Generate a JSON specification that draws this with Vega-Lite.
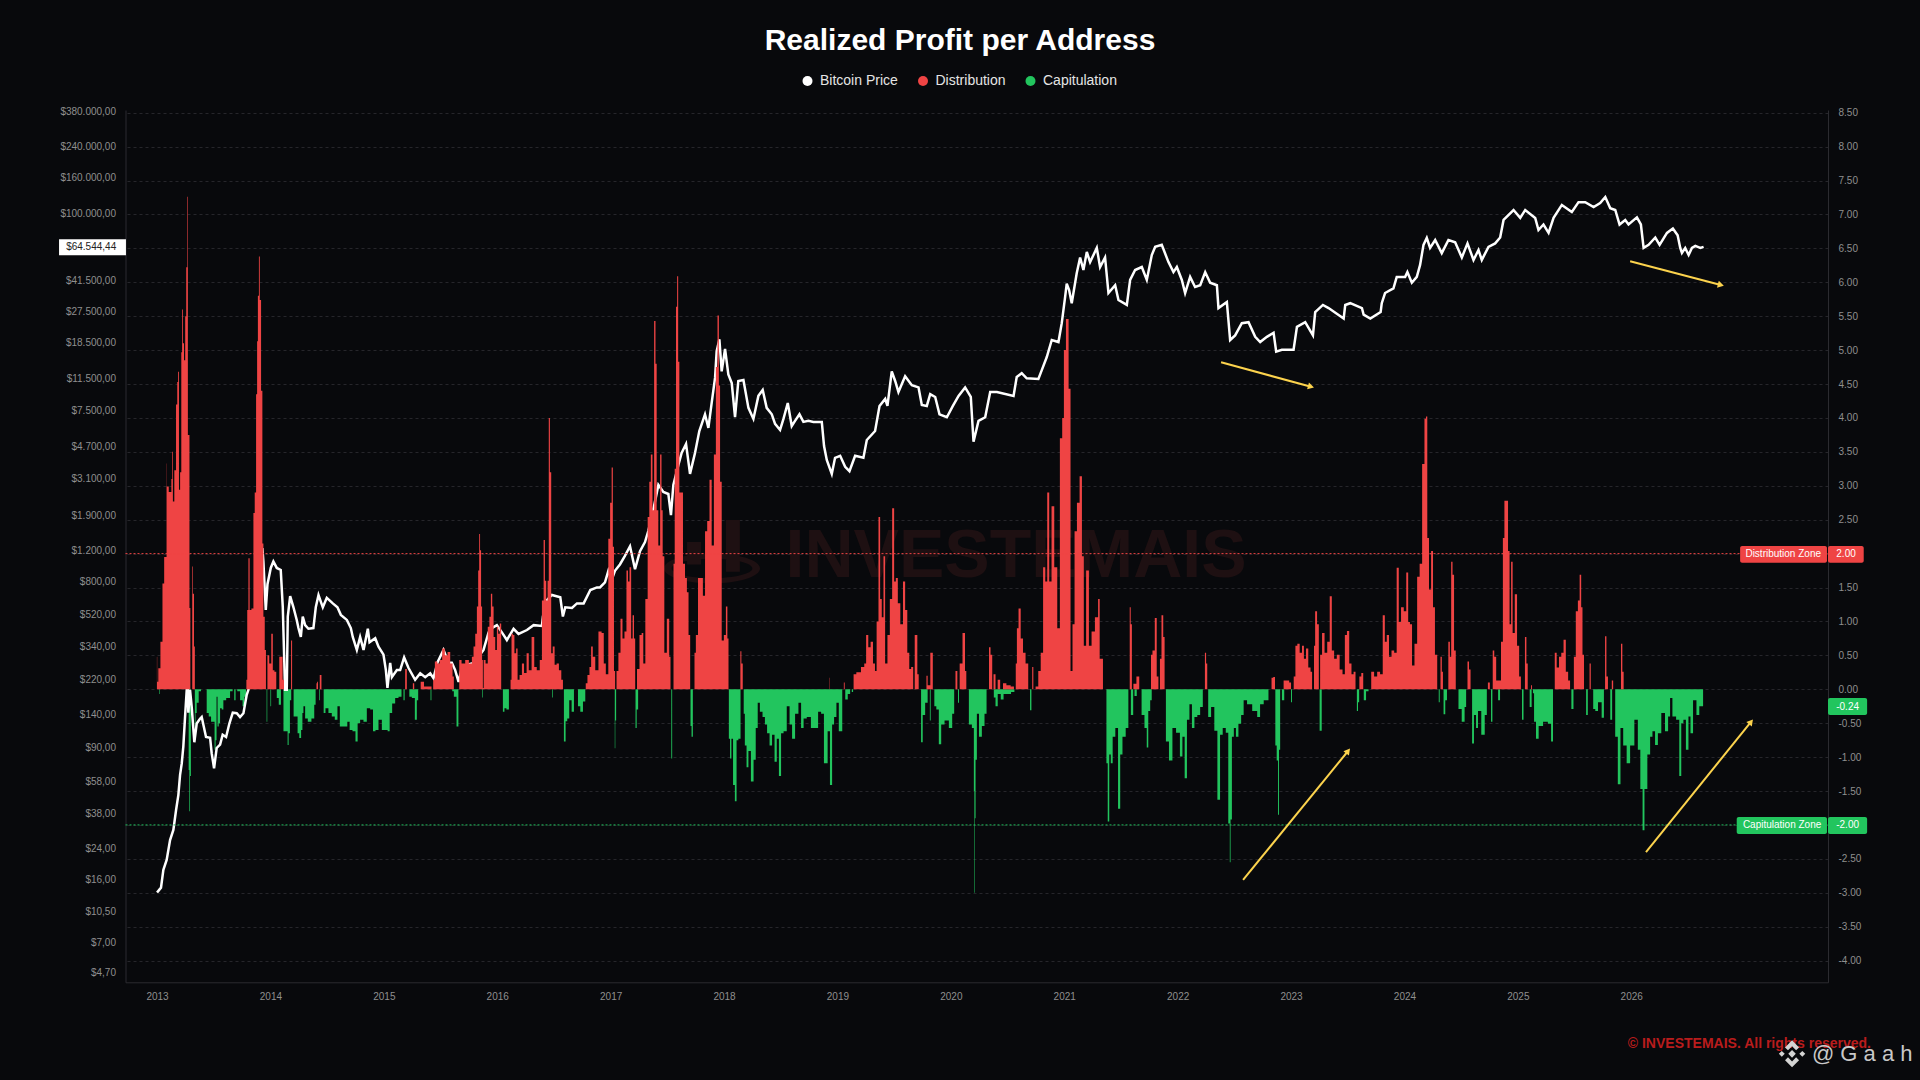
{"$schema":"https://vega.github.io/schema/vega-lite/v6.json","width":1702.5,"height":872.3,"autosize":{"type":"none"},"padding":{"left":125.5,"top":110,"right":92,"bottom":97.7},"background":"#08090c","config":{"font":"Liberation Sans","view":{"stroke":null}},"title":{"text":"Realized Profit per Address","fontSize":30,"fontWeight":"bold","color":"#ffffff","anchor":"middle","dx":-16.75,"offset":18,"font":"Liberation Sans"},
"datasets":{
"dist":[{"t":2012.998,"v":0},{"t":2013.0,"v":0.48},{"t":2013.003,"v":0.11},{"t":2013.02,"v":0.31},{"t":2013.04,"v":0.7},{"t":2013.056,"v":1.56},{"t":2013.07,"v":1.95},{"t":2013.083,"v":1.95},{"t":2013.085,"v":3.33},{"t":2013.087,"v":2.99},{"t":2013.12,"v":2.91},{"t":2013.133,"v":3.1},{"t":2013.135,"v":3.5},{"t":2013.145,"v":2.77},{"t":2013.16,"v":3.23},{"t":2013.175,"v":4.2},{"t":2013.182,"v":4.53},{"t":2013.19,"v":4.68},{"t":2013.197,"v":2.94},{"t":2013.21,"v":3.2},{"t":2013.218,"v":4.97},{"t":2013.224,"v":5.6},{"t":2013.232,"v":5.1},{"t":2013.244,"v":4.85},{"t":2013.253,"v":5.5},{"t":2013.262,"v":6.22},{"t":2013.266,"v":6.22},{"t":2013.268,"v":7.26},{"t":2013.27,"v":7.26},{"t":2013.274,"v":3.75},{"t":2013.282,"v":3.75},{"t":2013.29,"v":1.2},{"t":2013.298,"v":0},{"t":2013.309,"v":0},{"t":2013.312,"v":1.81},{"t":2013.32,"v":1.41},{"t":2013.332,"v":0.63},{"t":2013.335,"v":0},{"t":2013.785,"v":0},{"t":2013.791,"v":0.14},{"t":2013.8,"v":1.17},{"t":2013.812,"v":1.93},{"t":2013.821,"v":1.17},{"t":2013.844,"v":1.19},{"t":2013.856,"v":2.6},{"t":2013.867,"v":2.9},{"t":2013.88,"v":4.35},{"t":2013.885,"v":5.13},{"t":2013.894,"v":5.8},{"t":2013.903,"v":6.38},{"t":2013.909,"v":5.74},{"t":2013.915,"v":5.74},{"t":2013.92,"v":4.4},{"t":2013.926,"v":4.4},{"t":2013.932,"v":2.15},{"t":2013.944,"v":1.07},{"t":2013.956,"v":0.58},{"t":2013.965,"v":0},{"t":2013.982,"v":0.5},{"t":2013.997,"v":0.38},{"t":2014.018,"v":0.82},{"t":2014.024,"v":0.28},{"t":2014.047,"v":0.26},{"t":2014.056,"v":0},{"t":2014.1,"v":0.48},{"t":2014.115,"v":0.14},{"t":2014.124,"v":0},{"t":2014.179,"v":0},{"t":2014.185,"v":0.72},{"t":2014.197,"v":0},{"t":2014.403,"v":0},{"t":2014.409,"v":0.09},{"t":2014.415,"v":0.11},{"t":2014.424,"v":0},{"t":2014.432,"v":0},{"t":2014.438,"v":0.21},{"t":2014.462,"v":0},{"t":2015.185,"v":0},{"t":2015.191,"v":0.3},{"t":2015.215,"v":0},{"t":2015.25,"v":0},{"t":2015.262,"v":0.09},{"t":2015.274,"v":0},{"t":2015.306,"v":0},{"t":2015.344,"v":0.11},{"t":2015.365,"v":0.04},{"t":2015.409,"v":0.04},{"t":2015.432,"v":0},{"t":2015.438,"v":0.14},{"t":2015.462,"v":0.41},{"t":2015.482,"v":0.38},{"t":2015.503,"v":0.43},{"t":2015.526,"v":0.6},{"t":2015.55,"v":0.5},{"t":2015.574,"v":0.55},{"t":2015.597,"v":0.38},{"t":2015.615,"v":0.19},{"t":2015.62,"v":0},{"t":2015.662,"v":0},{"t":2015.668,"v":0.43},{"t":2015.703,"v":0.38},{"t":2015.732,"v":0.43},{"t":2015.768,"v":0.38},{"t":2015.785,"v":0.48},{"t":2015.797,"v":0.63},{"t":2015.815,"v":0.82},{"t":2015.826,"v":1.22},{"t":2015.838,"v":1.75},{"t":2015.844,"v":2.29},{"t":2015.853,"v":2.05},{"t":2015.862,"v":1.22},{"t":2015.871,"v":0.43},{"t":2015.876,"v":0.02},{"t":2015.885,"v":0.43},{"t":2015.909,"v":0.38},{"t":2015.924,"v":0.92},{"t":2015.938,"v":1.07},{"t":2015.95,"v":1.41},{"t":2015.962,"v":1.22},{"t":2015.974,"v":0.77},{"t":2015.991,"v":0.58},{"t":2016.003,"v":0.92},{"t":2016.015,"v":0.82},{"t":2016.029,"v":0.97},{"t":2016.041,"v":0},{"t":2016.115,"v":0},{"t":2016.12,"v":0.14},{"t":2016.132,"v":0.82},{"t":2016.144,"v":0.8},{"t":2016.159,"v":0.53},{"t":2016.174,"v":0.6},{"t":2016.185,"v":0.14},{"t":2016.209,"v":0.21},{"t":2016.226,"v":0.38},{"t":2016.247,"v":0.24},{"t":2016.271,"v":0.53},{"t":2016.285,"v":0.28},{"t":2016.321,"v":0.77},{"t":2016.332,"v":0.33},{"t":2016.365,"v":0.28},{"t":2016.385,"v":0.43},{"t":2016.403,"v":1.31},{"t":2016.415,"v":2.2},{"t":2016.426,"v":1.6},{"t":2016.438,"v":1.31},{"t":2016.45,"v":1.6},{"t":2016.459,"v":4.0},{"t":2016.47,"v":3.2},{"t":2016.482,"v":0.53},{"t":2016.497,"v":0.63},{"t":2016.515,"v":0.36},{"t":2016.532,"v":0.38},{"t":2016.556,"v":0.28},{"t":2016.574,"v":0.14},{"t":2016.585,"v":0},{"t":2016.776,"v":0},{"t":2016.785,"v":0.09},{"t":2016.806,"v":0.21},{"t":2016.821,"v":0.33},{"t":2016.835,"v":0.63},{"t":2016.85,"v":0.48},{"t":2016.879,"v":0.28},{"t":2016.906,"v":0.85},{"t":2016.935,"v":0.83},{"t":2016.944,"v":0.38},{"t":2016.971,"v":0.22},{"t":2016.988,"v":2.22},{"t":2017.003,"v":2.75},{"t":2017.015,"v":3.27},{"t":2017.024,"v":2.1},{"t":2017.035,"v":0.27},{"t":2017.044,"v":0},{"t":2017.06,"v":0.27},{"t":2017.077,"v":0.54},{"t":2017.097,"v":1.04},{"t":2017.112,"v":0.75},{"t":2017.132,"v":0.85},{"t":2017.147,"v":1.75},{"t":2017.159,"v":1.59},{"t":2017.174,"v":1.8},{"t":2017.188,"v":0.75},{"t":2017.2,"v":1.09},{"t":2017.212,"v":0.75},{"t":2017.221,"v":0},{"t":2017.244,"v":0.3},{"t":2017.265,"v":0.8},{"t":2017.282,"v":0.83},{"t":2017.294,"v":0.38},{"t":2017.318,"v":1.33},{"t":2017.335,"v":2.54},{"t":2017.347,"v":3.06},{"t":2017.362,"v":3.46},{"t":2017.376,"v":2.64},{"t":2017.391,"v":5.43},{"t":2017.4,"v":4.8},{"t":2017.412,"v":2.64},{"t":2017.429,"v":2.12},{"t":2017.444,"v":3.46},{"t":2017.453,"v":2.64},{"t":2017.465,"v":1.96},{"t":2017.482,"v":0.54},{"t":2017.509,"v":1.04},{"t":2017.524,"v":0.48},{"t":2017.532,"v":0},{"t":2017.55,"v":0},{"t":2017.559,"v":1.85},{"t":2017.571,"v":3.25},{"t":2017.582,"v":5.64},{"t":2017.591,"v":6.09},{"t":2017.6,"v":4.83},{"t":2017.612,"v":2.9},{"t":2017.629,"v":2.9},{"t":2017.647,"v":1.85},{"t":2017.665,"v":1.64},{"t":2017.68,"v":1.43},{"t":2017.694,"v":0.8},{"t":2017.709,"v":0},{"t":2017.735,"v":0},{"t":2017.744,"v":0.54},{"t":2017.759,"v":0.8},{"t":2017.782,"v":1.64},{"t":2017.803,"v":1.64},{"t":2017.824,"v":1.38},{"t":2017.841,"v":2.33},{"t":2017.862,"v":2.48},{"t":2017.882,"v":3.09},{"t":2017.9,"v":2.12},{"t":2017.921,"v":3.46},{"t":2017.935,"v":4.75},{"t":2017.95,"v":5.51},{"t":2017.959,"v":4.48},{"t":2017.971,"v":3.06},{"t":2017.988,"v":0.72},{"t":2018.009,"v":0.8},{"t":2018.024,"v":1.22},{"t":2018.035,"v":0.75},{"t":2018.044,"v":0},{"t":2018.141,"v":0},{"t":2018.147,"v":0.56},{"t":2018.159,"v":0.38},{"t":2018.171,"v":0},{"t":2018.927,"v":0},{"t":2018.93,"v":0.17},{"t":2018.933,"v":0},{"t":2019.053,"v":0},{"t":2019.06,"v":0.1},{"t":2019.068,"v":0},{"t":2019.138,"v":0},{"t":2019.147,"v":0.22},{"t":2019.186,"v":0.25},{"t":2019.229,"v":0.33},{"t":2019.244,"v":0.38},{"t":2019.262,"v":0.8},{"t":2019.282,"v":0.62},{"t":2019.303,"v":0.7},{"t":2019.324,"v":0.38},{"t":2019.338,"v":0.27},{"t":2019.353,"v":1.0},{"t":2019.371,"v":2.54},{"t":2019.382,"v":1.33},{"t":2019.4,"v":1.06},{"t":2019.412,"v":1.96},{"t":2019.429,"v":0.38},{"t":2019.453,"v":0.8},{"t":2019.471,"v":1.33},{"t":2019.494,"v":2.67},{"t":2019.506,"v":1.59},{"t":2019.524,"v":1.64},{"t":2019.541,"v":1.27},{"t":2019.568,"v":0.96},{"t":2019.588,"v":1.59},{"t":2019.606,"v":1.17},{"t":2019.626,"v":0.54},{"t":2019.641,"v":0.3},{"t":2019.659,"v":0.33},{"t":2019.677,"v":0},{"t":2019.686,"v":0.8},{"t":2019.7,"v":0.8},{"t":2019.709,"v":0.22},{"t":2019.724,"v":0},{"t":2019.782,"v":0},{"t":2019.788,"v":0.2},{"t":2019.803,"v":0.06},{"t":2019.835,"v":0.54},{"t":2019.847,"v":0},{"t":2020.035,"v":0},{"t":2020.047,"v":0.27},{"t":2020.068,"v":0},{"t":2020.088,"v":0.38},{"t":2020.118,"v":0.83},{"t":2020.132,"v":0.27},{"t":2020.141,"v":0},{"t":2020.332,"v":0},{"t":2020.341,"v":0.62},{"t":2020.359,"v":0.51},{"t":2020.371,"v":0},{"t":2020.382,"v":0.22},{"t":2020.406,"v":0},{"t":2020.42,"v":0.14},{"t":2020.45,"v":0},{"t":2020.47,"v":0.09},{"t":2020.51,"v":0.06},{"t":2020.545,"v":0.04},{"t":2020.568,"v":0},{"t":2020.577,"v":0.38},{"t":2020.588,"v":0.9},{"t":2020.606,"v":1.19},{"t":2020.626,"v":0.75},{"t":2020.647,"v":0.54},{"t":2020.671,"v":0.38},{"t":2020.694,"v":0},{"t":2020.715,"v":0},{"t":2020.72,"v":0.33},{"t":2020.735,"v":0},{"t":2020.76,"v":0.04},{"t":2020.782,"v":0.27},{"t":2020.803,"v":0.54},{"t":2020.824,"v":1.8},{"t":2020.841,"v":1.59},{"t":2020.859,"v":2.9},{"t":2020.876,"v":1.59},{"t":2020.9,"v":2.7},{"t":2020.924,"v":1.8},{"t":2020.953,"v":0.9},{"t":2020.97,"v":3.7},{"t":2020.994,"v":4.0},{"t":2021.0,"v":5.0},{"t":2021.03,"v":5.46},{"t":2021.047,"v":4.43},{"t":2021.064,"v":0.27},{"t":2021.082,"v":0.96},{"t":2021.1,"v":2.33},{"t":2021.124,"v":2.75},{"t":2021.147,"v":3.14},{"t":2021.165,"v":1.96},{"t":2021.18,"v":0.64},{"t":2021.206,"v":1.75},{"t":2021.229,"v":0.64},{"t":2021.253,"v":0.85},{"t":2021.288,"v":1.06},{"t":2021.309,"v":1.33},{"t":2021.316,"v":0.45},{"t":2021.367,"v":0},{"t":2021.576,"v":0},{"t":2021.579,"v":1.21},{"t":2021.593,"v":0.96},{"t":2021.6,"v":0},{"t":2021.62,"v":0.08},{"t":2021.653,"v":0.19},{"t":2021.67,"v":0},{"t":2021.762,"v":0},{"t":2021.768,"v":0.51},{"t":2021.788,"v":0.57},{"t":2021.809,"v":1.05},{"t":2021.822,"v":0.19},{"t":2021.839,"v":0},{"t":2021.849,"v":0.45},{"t":2021.866,"v":1.09},{"t":2021.88,"v":0.77},{"t":2021.89,"v":0},{"t":2022.237,"v":0},{"t":2022.244,"v":0.54},{"t":2022.258,"v":0.38},{"t":2022.264,"v":0},{"t":2022.825,"v":0},{"t":2022.831,"v":0.17},{"t":2022.855,"v":0.18},{"t":2022.862,"v":0},{"t":2022.919,"v":0},{"t":2022.95,"v":0.13},{"t":2022.97,"v":0.13},{"t":2022.997,"v":0.1},{"t":2023.003,"v":0},{"t":2023.017,"v":0},{"t":2023.03,"v":0.19},{"t":2023.047,"v":0.64},{"t":2023.064,"v":0.67},{"t":2023.088,"v":0.54},{"t":2023.105,"v":0.64},{"t":2023.122,"v":0.45},{"t":2023.142,"v":0.6},{"t":2023.162,"v":0.32},{"t":2023.182,"v":0.26},{"t":2023.189,"v":0},{"t":2023.199,"v":0},{"t":2023.206,"v":0.64},{"t":2023.219,"v":1.15},{"t":2023.24,"v":0.96},{"t":2023.25,"v":0},{"t":2023.263,"v":0.51},{"t":2023.284,"v":0.83},{"t":2023.307,"v":0.54},{"t":2023.331,"v":0.7},{"t":2023.351,"v":1.37},{"t":2023.368,"v":0.57},{"t":2023.392,"v":0.45},{"t":2023.415,"v":0.51},{"t":2023.442,"v":0.29},{"t":2023.466,"v":0.22},{"t":2023.483,"v":0.8},{"t":2023.503,"v":0.86},{"t":2023.523,"v":0.38},{"t":2023.543,"v":0.22},{"t":2023.56,"v":0.26},{"t":2023.577,"v":0},{"t":2023.594,"v":0},{"t":2023.611,"v":0.19},{"t":2023.628,"v":0.24},{"t":2023.645,"v":0},{"t":2023.695,"v":0},{"t":2023.719,"v":0.26},{"t":2023.746,"v":0.19},{"t":2023.773,"v":0.26},{"t":2023.797,"v":0.22},{"t":2023.82,"v":1.09},{"t":2023.834,"v":0.7},{"t":2023.854,"v":0.8},{"t":2023.874,"v":0.48},{"t":2023.898,"v":0.57},{"t":2023.921,"v":0.54},{"t":2023.942,"v":1.79},{"t":2023.958,"v":0.99},{"t":2023.982,"v":1.21},{"t":2024.006,"v":1.15},{"t":2024.026,"v":1.72},{"t":2024.04,"v":0.99},{"t":2024.057,"v":0.96},{"t":2024.077,"v":0.35},{"t":2024.1,"v":0.67},{"t":2024.124,"v":1.66},{"t":2024.144,"v":1.85},{"t":2024.168,"v":3.32},{"t":2024.185,"v":3.99},{"t":2024.195,"v":4.02},{"t":2024.208,"v":2.23},{"t":2024.225,"v":1.47},{"t":2024.245,"v":2.04},{"t":2024.259,"v":1.21},{"t":2024.279,"v":0.51},{"t":2024.299,"v":0},{"t":2024.313,"v":0},{"t":2024.323,"v":0.48},{"t":2024.336,"v":0.26},{"t":2024.343,"v":0},{"t":2024.38,"v":0},{"t":2024.394,"v":0.7},{"t":2024.407,"v":0.48},{"t":2024.417,"v":1.88},{"t":2024.431,"v":1.69},{"t":2024.444,"v":0.57},{"t":2024.461,"v":0},{"t":2024.549,"v":0},{"t":2024.563,"v":0.41},{"t":2024.576,"v":0.29},{"t":2024.59,"v":0},{"t":2024.731,"v":0},{"t":2024.741,"v":0.1},{"t":2024.765,"v":0},{"t":2024.772,"v":0},{"t":2024.785,"v":0.57},{"t":2024.799,"v":0.48},{"t":2024.819,"v":0.13},{"t":2024.843,"v":0.13},{"t":2024.86,"v":0.7},{"t":2024.876,"v":2.23},{"t":2024.887,"v":2.78},{"t":2024.907,"v":2.78},{"t":2024.92,"v":2.04},{"t":2024.934,"v":0.96},{"t":2024.947,"v":1.88},{"t":2024.961,"v":0.83},{"t":2024.985,"v":1.4},{"t":2025.001,"v":0.64},{"t":2025.022,"v":0.19},{"t":2025.032,"v":0},{"t":2025.056,"v":0},{"t":2025.069,"v":0.77},{"t":2025.082,"v":0.38},{"t":2025.092,"v":0},{"t":2025.113,"v":0},{"t":2025.12,"v":0.06},{"t":2025.13,"v":0},{"t":2025.319,"v":0},{"t":2025.332,"v":0.54},{"t":2025.353,"v":0.32},{"t":2025.373,"v":0.48},{"t":2025.393,"v":0.54},{"t":2025.413,"v":0.73},{"t":2025.433,"v":0.26},{"t":2025.454,"v":0.13},{"t":2025.467,"v":0},{"t":2025.487,"v":0},{"t":2025.501,"v":0.48},{"t":2025.521,"v":1.15},{"t":2025.538,"v":1.31},{"t":2025.552,"v":1.69},{"t":2025.565,"v":1.21},{"t":2025.575,"v":0.51},{"t":2025.592,"v":0},{"t":2025.629,"v":0},{"t":2025.636,"v":0.38},{"t":2025.65,"v":0},{"t":2025.764,"v":0},{"t":2025.774,"v":0.78},{"t":2025.788,"v":0.19},{"t":2025.801,"v":0},{"t":2025.825,"v":0},{"t":2025.832,"v":0.13},{"t":2025.849,"v":0},{"t":2025.906,"v":0},{"t":2025.913,"v":0.67},{"t":2025.93,"v":0.26},{"t":2025.936,"v":0}],
"cap":[{"t":2013.015,"v":0},{"t":2013.02,"v":-0.07},{"t":2013.025,"v":0},{"t":2013.276,"v":0},{"t":2013.282,"v":-1.19},{"t":2013.288,"v":-1.8},{"t":2013.294,"v":-1.28},{"t":2013.303,"v":0},{"t":2013.332,"v":0},{"t":2013.335,"v":-0.55},{"t":2013.344,"v":-0.35},{"t":2013.356,"v":-0.2},{"t":2013.379,"v":-0.03},{"t":2013.397,"v":0},{"t":2013.432,"v":0},{"t":2013.444,"v":-0.35},{"t":2013.468,"v":-0.4},{"t":2013.485,"v":-0.48},{"t":2013.503,"v":-0.48},{"t":2013.512,"v":-0.89},{"t":2013.521,"v":-0.75},{"t":2013.529,"v":-0.11},{"t":2013.538,"v":-0.55},{"t":2013.55,"v":-0.5},{"t":2013.562,"v":-0.28},{"t":2013.579,"v":-0.3},{"t":2013.591,"v":-0.16},{"t":2013.629,"v":-0.13},{"t":2013.659,"v":-0.03},{"t":2013.674,"v":0},{"t":2013.688,"v":-0.16},{"t":2013.697,"v":0},{"t":2013.718,"v":-0.03},{"t":2013.747,"v":-0.16},{"t":2013.762,"v":-0.25},{"t":2013.779,"v":-0.11},{"t":2013.791,"v":0},{"t":2013.965,"v":0},{"t":2013.968,"v":-0.48},{"t":2013.976,"v":0},{"t":2013.997,"v":0},{"t":2014.003,"v":-0.25},{"t":2014.009,"v":0},{"t":2014.05,"v":0},{"t":2014.062,"v":-0.13},{"t":2014.085,"v":-0.23},{"t":2014.1,"v":0},{"t":2014.112,"v":0},{"t":2014.118,"v":-0.62},{"t":2014.138,"v":-0.62},{"t":2014.147,"v":-0.62},{"t":2014.156,"v":-0.82},{"t":2014.165,"v":-0.65},{"t":2014.179,"v":-0.16},{"t":2014.188,"v":0},{"t":2014.2,"v":0},{"t":2014.209,"v":-0.4},{"t":2014.232,"v":-0.4},{"t":2014.247,"v":-0.65},{"t":2014.262,"v":-0.72},{"t":2014.279,"v":-0.6},{"t":2014.285,"v":-0.35},{"t":2014.297,"v":-0.25},{"t":2014.315,"v":-0.43},{"t":2014.344,"v":-0.48},{"t":2014.379,"v":-0.43},{"t":2014.394,"v":-0.23},{"t":2014.403,"v":0},{"t":2014.426,"v":0},{"t":2014.432,"v":-0.16},{"t":2014.438,"v":0},{"t":2014.465,"v":0},{"t":2014.474,"v":-0.35},{"t":2014.497,"v":-0.28},{"t":2014.526,"v":-0.35},{"t":2014.556,"v":-0.4},{"t":2014.579,"v":-0.45},{"t":2014.603,"v":-0.25},{"t":2014.621,"v":-0.55},{"t":2014.644,"v":-0.55},{"t":2014.668,"v":-0.55},{"t":2014.688,"v":-0.48},{"t":2014.709,"v":-0.6},{"t":2014.738,"v":-0.62},{"t":2014.762,"v":-0.77},{"t":2014.776,"v":-0.5},{"t":2014.806,"v":-0.45},{"t":2014.835,"v":-0.48},{"t":2014.865,"v":-0.28},{"t":2014.894,"v":-0.3},{"t":2014.915,"v":-0.62},{"t":2014.938,"v":-0.6},{"t":2014.968,"v":-0.45},{"t":2014.997,"v":-0.6},{"t":2015.026,"v":-0.6},{"t":2015.041,"v":-0.62},{"t":2015.062,"v":-0.35},{"t":2015.085,"v":-0.21},{"t":2015.115,"v":-0.13},{"t":2015.144,"v":-0.11},{"t":2015.168,"v":0},{"t":2015.179,"v":-0.16},{"t":2015.188,"v":0},{"t":2015.218,"v":0},{"t":2015.232,"v":-0.11},{"t":2015.262,"v":-0.13},{"t":2015.285,"v":-0.45},{"t":2015.297,"v":-0.16},{"t":2015.309,"v":0},{"t":2015.409,"v":0},{"t":2015.415,"v":-0.16},{"t":2015.424,"v":0},{"t":2015.6,"v":0},{"t":2015.606,"v":-0.03},{"t":2015.629,"v":-0.11},{"t":2015.653,"v":-0.55},{"t":2015.662,"v":0},{"t":2015.865,"v":0},{"t":2015.871,"v":-0.12},{"t":2015.876,"v":0},{"t":2016.044,"v":0},{"t":2016.056,"v":-0.33},{"t":2016.071,"v":-0.28},{"t":2016.091,"v":-0.3},{"t":2016.115,"v":0},{"t":2016.482,"v":0},{"t":2016.488,"v":-0.12},{"t":2016.494,"v":0},{"t":2016.579,"v":0},{"t":2016.597,"v":-0.77},{"t":2016.609,"v":-0.47},{"t":2016.626,"v":-0.43},{"t":2016.644,"v":-0.16},{"t":2016.668,"v":-0.33},{"t":2016.685,"v":0},{"t":2016.703,"v":0},{"t":2016.721,"v":-0.25},{"t":2016.744,"v":-0.33},{"t":2016.768,"v":-0.18},{"t":2016.785,"v":0},{"t":2017.035,"v":0},{"t":2017.038,"v":-0.87},{"t":2017.044,"v":-0.46},{"t":2017.053,"v":0},{"t":2017.215,"v":0},{"t":2017.224,"v":-0.57},{"t":2017.235,"v":-0.3},{"t":2017.25,"v":0},{"t":2017.532,"v":0},{"t":2017.538,"v":-1.02},{"t":2017.547,"v":0},{"t":2017.7,"v":0},{"t":2017.709,"v":-0.54},{"t":2017.718,"v":-0.7},{"t":2017.732,"v":0},{"t":2018.038,"v":0},{"t":2018.047,"v":-0.73},{"t":2018.059,"v":-1.02},{"t":2018.071,"v":-0.73},{"t":2018.088,"v":-1.41},{"t":2018.103,"v":-1.65},{"t":2018.118,"v":-0.75},{"t":2018.135,"v":-0.73},{"t":2018.156,"v":0},{"t":2018.171,"v":0},{"t":2018.176,"v":-0.36},{"t":2018.191,"v":-0.83},{"t":2018.206,"v":-1.15},{"t":2018.224,"v":-0.91},{"t":2018.25,"v":-1.36},{"t":2018.271,"v":-1.04},{"t":2018.288,"v":-0.57},{"t":2018.306,"v":-0.2},{"t":2018.326,"v":-0.33},{"t":2018.353,"v":-0.41},{"t":2018.368,"v":-0.52},{"t":2018.391,"v":-0.65},{"t":2018.412,"v":-0.83},{"t":2018.435,"v":-0.67},{"t":2018.456,"v":-1.07},{"t":2018.474,"v":-0.73},{"t":2018.494,"v":-1.28},{"t":2018.512,"v":-0.65},{"t":2018.538,"v":-0.62},{"t":2018.568,"v":-0.25},{"t":2018.588,"v":-0.52},{"t":2018.612,"v":-0.73},{"t":2018.641,"v":-0.36},{"t":2018.671,"v":-0.2},{"t":2018.688,"v":-0.57},{"t":2018.715,"v":-0.43},{"t":2018.744,"v":-0.41},{"t":2018.788,"v":-0.57},{"t":2018.818,"v":-0.57},{"t":2018.841,"v":-0.33},{"t":2018.871,"v":-0.36},{"t":2018.891,"v":-1.09},{"t":2018.906,"v":-1.09},{"t":2018.921,"v":-0.62},{"t":2018.947,"v":-1.41},{"t":2018.959,"v":-0.52},{"t":2018.982,"v":-0.41},{"t":2019.0,"v":-0.2},{"t":2019.024,"v":-0.62},{"t":2019.038,"v":-0.62},{"t":2019.047,"v":0},{"t":2019.062,"v":0},{"t":2019.076,"v":-0.15},{"t":2019.106,"v":-0.07},{"t":2019.118,"v":0},{"t":2019.135,"v":-0.04},{"t":2019.141,"v":0},{"t":2019.73,"v":0},{"t":2019.745,"v":-0.78},{"t":2019.759,"v":-0.38},{"t":2019.788,"v":-0.2},{"t":2019.803,"v":0},{"t":2019.812,"v":0},{"t":2019.818,"v":-0.46},{"t":2019.826,"v":0},{"t":2019.847,"v":0},{"t":2019.862,"v":-0.25},{"t":2019.882,"v":-0.3},{"t":2019.906,"v":-0.81},{"t":2019.924,"v":-0.52},{"t":2019.965,"v":-0.46},{"t":2020.0,"v":-0.57},{"t":2020.024,"v":-0.36},{"t":2020.035,"v":0},{"t":2020.059,"v":0},{"t":2020.068,"v":-0.2},{"t":2020.076,"v":0},{"t":2020.147,"v":0},{"t":2020.171,"v":-0.52},{"t":2020.2,"v":-0.57},{"t":2020.206,"v":-1.5},{"t":2020.209,"v":-3.0},{"t":2020.215,"v":-1.9},{"t":2020.221,"v":-1.04},{"t":2020.238,"v":-0.36},{"t":2020.259,"v":-0.7},{"t":2020.288,"v":-0.54},{"t":2020.306,"v":-0.36},{"t":2020.324,"v":0},{"t":2020.376,"v":0},{"t":2020.382,"v":-0.12},{"t":2020.406,"v":-0.25},{"t":2020.421,"v":-0.07},{"t":2020.459,"v":-0.15},{"t":2020.471,"v":-0.07},{"t":2020.509,"v":-0.07},{"t":2020.553,"v":-0.04},{"t":2020.568,"v":0},{"t":2020.694,"v":0},{"t":2020.703,"v":-0.31},{"t":2020.718,"v":0},{"t":2021.367,"v":0},{"t":2021.377,"v":-1.09},{"t":2021.39,"v":-1.95},{"t":2021.404,"v":-0.96},{"t":2021.417,"v":-1.09},{"t":2021.437,"v":-0.7},{"t":2021.464,"v":-0.57},{"t":2021.485,"v":-1.76},{"t":2021.502,"v":-0.96},{"t":2021.525,"v":-0.7},{"t":2021.559,"v":-0.57},{"t":2021.572,"v":0},{"t":2021.603,"v":-0.38},{"t":2021.613,"v":0},{"t":2021.626,"v":-0.1},{"t":2021.653,"v":0},{"t":2021.67,"v":0},{"t":2021.694,"v":-0.38},{"t":2021.721,"v":-0.57},{"t":2021.734,"v":-0.86},{"t":2021.748,"v":-0.32},{"t":2021.768,"v":-0.16},{"t":2021.775,"v":0},{"t":2021.89,"v":0},{"t":2021.903,"v":-0.77},{"t":2021.944,"v":-1.05},{"t":2021.964,"v":-0.57},{"t":2022.008,"v":-0.64},{"t":2022.032,"v":-0.99},{"t":2022.052,"v":-0.7},{"t":2022.072,"v":-1.31},{"t":2022.092,"v":-0.45},{"t":2022.116,"v":-0.22},{"t":2022.136,"v":-0.57},{"t":2022.16,"v":-0.41},{"t":2022.187,"v":-0.38},{"t":2022.21,"v":-0.26},{"t":2022.234,"v":0},{"t":2022.261,"v":0},{"t":2022.278,"v":-0.41},{"t":2022.312,"v":-0.26},{"t":2022.335,"v":-0.61},{"t":2022.366,"v":-1.63},{"t":2022.382,"v":-0.67},{"t":2022.413,"v":-0.57},{"t":2022.436,"v":-0.64},{"t":2022.457,"v":-1.98},{"t":2022.463,"v":-2.55},{"t":2022.47,"v":-1.92},{"t":2022.487,"v":-0.7},{"t":2022.504,"v":-0.57},{"t":2022.524,"v":-0.7},{"t":2022.548,"v":-0.51},{"t":2022.572,"v":-0.38},{"t":2022.592,"v":-0.16},{"t":2022.632,"v":-0.22},{"t":2022.683,"v":-0.32},{"t":2022.72,"v":-0.41},{"t":2022.734,"v":-0.22},{"t":2022.784,"v":-0.16},{"t":2022.818,"v":0},{"t":2022.858,"v":0},{"t":2022.865,"v":-0.83},{"t":2022.882,"v":-1.05},{"t":2022.889,"v":-1.85},{"t":2022.899,"v":-0.89},{"t":2022.909,"v":0},{"t":2022.93,"v":-0.16},{"t":2022.95,"v":0},{"t":2022.997,"v":0},{"t":2023.003,"v":-0.19},{"t":2023.014,"v":0},{"t":2023.247,"v":0},{"t":2023.257,"v":-0.61},{"t":2023.267,"v":-0.61},{"t":2023.274,"v":0},{"t":2023.577,"v":0},{"t":2023.584,"v":-0.32},{"t":2023.597,"v":-0.19},{"t":2023.604,"v":0},{"t":2023.638,"v":0},{"t":2023.645,"v":-0.16},{"t":2023.678,"v":-0.03},{"t":2023.689,"v":0},{"t":2024.299,"v":0},{"t":2024.306,"v":-0.19},{"t":2024.316,"v":0},{"t":2024.34,"v":0},{"t":2024.35,"v":-0.37},{"t":2024.37,"v":-0.16},{"t":2024.38,"v":0},{"t":2024.465,"v":0},{"t":2024.488,"v":-0.29},{"t":2024.522,"v":-0.48},{"t":2024.539,"v":-0.26},{"t":2024.549,"v":0},{"t":2024.59,"v":0},{"t":2024.603,"v":-0.8},{"t":2024.623,"v":-0.38},{"t":2024.64,"v":-0.57},{"t":2024.657,"v":-0.32},{"t":2024.698,"v":-0.67},{"t":2024.718,"v":-0.38},{"t":2024.735,"v":0},{"t":2024.758,"v":0},{"t":2024.769,"v":-0.48},{"t":2024.782,"v":0},{"t":2024.819,"v":0},{"t":2024.833,"v":-0.16},{"t":2024.853,"v":0},{"t":2025.028,"v":0},{"t":2025.045,"v":-0.45},{"t":2025.055,"v":0},{"t":2025.096,"v":0},{"t":2025.113,"v":-0.26},{"t":2025.13,"v":0},{"t":2025.136,"v":-0.06},{"t":2025.15,"v":-0.48},{"t":2025.17,"v":-0.73},{"t":2025.197,"v":-0.54},{"t":2025.248,"v":-0.48},{"t":2025.281,"v":-0.51},{"t":2025.305,"v":-0.77},{"t":2025.315,"v":0},{"t":2025.46,"v":0},{"t":2025.484,"v":-0.29},{"t":2025.497,"v":0},{"t":2025.595,"v":0},{"t":2025.609,"v":-0.38},{"t":2025.625,"v":0},{"t":2025.653,"v":0},{"t":2025.676,"v":-0.29},{"t":2025.69,"v":-0.32},{"t":2025.724,"v":-0.19},{"t":2025.754,"v":-0.42},{"t":2025.764,"v":0},{"t":2025.805,"v":0},{"t":2025.825,"v":-0.45},{"t":2025.838,"v":0},{"t":2025.852,"v":0},{"t":2025.865,"v":-0.7},{"t":2025.898,"v":-1.4},{"t":2025.912,"v":-0.57},{"t":2025.946,"v":-0.83},{"t":2025.973,"v":-1.09},{"t":2026.007,"v":-0.83},{"t":2026.048,"v":-0.45},{"t":2026.068,"v":-0.89},{"t":2026.092,"v":-1.47},{"t":2026.108,"v":-2.08},{"t":2026.125,"v":-1.47},{"t":2026.159,"v":-0.96},{"t":2026.174,"v":-0.7},{"t":2026.2,"v":-0.62},{"t":2026.22,"v":-0.82},{"t":2026.25,"v":-0.65},{"t":2026.28,"v":-0.35},{"t":2026.315,"v":-0.62},{"t":2026.335,"v":-0.4},{"t":2026.35,"v":-0.13},{"t":2026.376,"v":-0.4},{"t":2026.415,"v":-0.45},{"t":2026.432,"v":-1.28},{"t":2026.45,"v":-0.5},{"t":2026.47,"v":-0.45},{"t":2026.494,"v":-0.89},{"t":2026.515,"v":-0.4},{"t":2026.53,"v":-0.65},{"t":2026.56,"v":-0.16},{"t":2026.59,"v":-0.38},{"t":2026.61,"v":-0.25},{"t":2026.632,"v":-0.25},{"t":2026.635,"v":0}],
"price":[{"t":2013.0,"p":13.5},{"t":2013.012,"p":13.8},{"t":2013.035,"p":14.4},{"t":2013.056,"p":18.2},{"t":2013.085,"p":20.7},{"t":2013.115,"p":26.9},{"t":2013.144,"p":30.7},{"t":2013.168,"p":39.9},{"t":2013.188,"p":48.5},{"t":2013.203,"p":63},{"t":2013.218,"p":73.5},{"t":2013.232,"p":92},{"t":2013.247,"p":135},{"t":2013.262,"p":193},{"t":2013.268,"p":258},{"t":2013.276,"p":143},{"t":2013.291,"p":193},{"t":2013.306,"p":154},{"t":2013.329,"p":97},{"t":2013.35,"p":124},{"t":2013.379,"p":132},{"t":2013.394,"p":135},{"t":2013.432,"p":104},{"t":2013.468,"p":103},{"t":2013.482,"p":84},{"t":2013.503,"p":69},{"t":2013.526,"p":90},{"t":2013.556,"p":94},{"t":2013.579,"p":107},{"t":2013.609,"p":104},{"t":2013.638,"p":124},{"t":2013.668,"p":143},{"t":2013.703,"p":142},{"t":2013.732,"p":135},{"t":2013.762,"p":142},{"t":2013.791,"p":181},{"t":2013.806,"p":193},{"t":2013.835,"p":285},{"t":2013.865,"p":483},{"t":2013.903,"p":627},{"t":2013.929,"p":1240},{"t":2013.938,"p":1040},{"t":2013.959,"p":550},{"t":2013.974,"p":772},{"t":2014.003,"p":955},{"t":2014.026,"p":1040},{"t":2014.056,"p":955},{"t":2014.091,"p":930},{"t":2014.109,"p":570},{"t":2014.129,"p":193},{"t":2014.144,"p":193},{"t":2014.153,"p":505},{"t":2014.174,"p":660},{"t":2014.203,"p":570},{"t":2014.232,"p":483},{"t":2014.247,"p":434},{"t":2014.268,"p":386},{"t":2014.285,"p":505},{"t":2014.306,"p":451},{"t":2014.335,"p":430},{"t":2014.379,"p":434},{"t":2014.4,"p":570},{"t":2014.424,"p":670},{"t":2014.462,"p":570},{"t":2014.497,"p":645},{"t":2014.55,"p":600},{"t":2014.591,"p":570},{"t":2014.621,"p":516},{"t":2014.674,"p":483},{"t":2014.709,"p":434},{"t":2014.726,"p":386},{"t":2014.762,"p":326},{"t":2014.791,"p":386},{"t":2014.821,"p":326},{"t":2014.859,"p":430},{"t":2014.874,"p":360},{"t":2014.924,"p":380},{"t":2014.953,"p":340},{"t":2014.997,"p":306},{"t":2015.018,"p":250},{"t":2015.032,"p":198},{"t":2015.056,"p":275},{"t":2015.071,"p":228},{"t":2015.115,"p":250},{"t":2015.144,"p":250},{"t":2015.179,"p":295},{"t":2015.218,"p":257},{"t":2015.276,"p":220},{"t":2015.321,"p":240},{"t":2015.365,"p":228},{"t":2015.409,"p":240},{"t":2015.438,"p":225},{"t":2015.474,"p":277},{"t":2015.526,"p":326},{"t":2015.571,"p":275},{"t":2015.6,"p":275},{"t":2015.629,"p":250},{"t":2015.659,"p":214},{"t":2015.688,"p":260},{"t":2015.732,"p":268},{"t":2015.791,"p":275},{"t":2015.835,"p":298},{"t":2015.879,"p":326},{"t":2015.924,"p":410},{"t":2015.953,"p":434},{"t":2015.997,"p":451},{"t":2016.041,"p":410},{"t":2016.085,"p":371},{"t":2016.144,"p":430},{"t":2016.188,"p":402},{"t":2016.262,"p":423},{"t":2016.321,"p":451},{"t":2016.394,"p":446},{"t":2016.403,"p":505},{"t":2016.438,"p":627},{"t":2016.482,"p":670},{"t":2016.556,"p":650},{"t":2016.579,"p":505},{"t":2016.6,"p":570},{"t":2016.659,"p":565},{"t":2016.703,"p":600},{"t":2016.762,"p":600},{"t":2016.821,"p":715},{"t":2016.879,"p":740},{"t":2016.906,"p":740},{"t":2016.95,"p":790},{"t":2016.98,"p":920},{"t":2017.009,"p":816},{"t":2017.038,"p":920},{"t":2017.082,"p":1000},{"t":2017.126,"p":1120},{"t":2017.171,"p":1270},{"t":2017.215,"p":940},{"t":2017.259,"p":1190},{"t":2017.303,"p":1340},{"t":2017.332,"p":1550},{"t":2017.376,"p":2040},{"t":2017.421,"p":2840},{"t":2017.465,"p":2590},{"t":2017.509,"p":2520},{"t":2017.532,"p":1910},{"t":2017.553,"p":2840},{"t":2017.597,"p":3680},{"t":2017.626,"p":4320},{"t":2017.665,"p":4860},{"t":2017.7,"p":3280},{"t":2017.744,"p":4320},{"t":2017.782,"p":5760},{"t":2017.832,"p":7170},{"t":2017.862,"p":6000},{"t":2017.891,"p":8320},{"t":2017.921,"p":11600},{"t":2017.935,"p":16400},{"t":2017.959,"p":19200},{"t":2017.979,"p":12600},{"t":2018.009,"p":16900},{"t":2018.038,"p":12100},{"t":2018.068,"p":10800},{"t":2018.097,"p":6900},{"t":2018.126,"p":11100},{"t":2018.171,"p":11250},{"t":2018.215,"p":7800},{"t":2018.259,"p":6750},{"t":2018.303,"p":9130},{"t":2018.341,"p":9860},{"t":2018.376,"p":7800},{"t":2018.421,"p":7170},{"t":2018.45,"p":6320},{"t":2018.494,"p":5840},{"t":2018.524,"p":6750},{"t":2018.562,"p":8320},{"t":2018.597,"p":6150},{"t":2018.626,"p":6580},{"t":2018.665,"p":7170},{"t":2018.7,"p":6490},{"t":2018.744,"p":6580},{"t":2018.788,"p":6490},{"t":2018.862,"p":6490},{"t":2018.882,"p":4730},{"t":2018.906,"p":3940},{"t":2018.95,"p":3280},{"t":2018.979,"p":4050},{"t":2019.024,"p":4160},{"t":2019.068,"p":3600},{"t":2019.106,"p":3400},{"t":2019.156,"p":4160},{"t":2019.229,"p":4050},{"t":2019.259,"p":5120},{"t":2019.332,"p":5760},{"t":2019.371,"p":8000},{"t":2019.421,"p":8780},{"t":2019.441,"p":8000},{"t":2019.479,"p":12600},{"t":2019.509,"p":11100},{"t":2019.538,"p":9600},{"t":2019.597,"p":11800},{"t":2019.656,"p":10500},{"t":2019.715,"p":10200},{"t":2019.744,"p":8100},{"t":2019.788,"p":8000},{"t":2019.818,"p":9350},{"t":2019.862,"p":9000},{"t":2019.9,"p":7170},{"t":2019.965,"p":6900},{"t":2020.018,"p":8000},{"t":2020.068,"p":9130},{"t":2020.126,"p":10200},{"t":2020.176,"p":9000},{"t":2020.2,"p":5000},{"t":2020.244,"p":6580},{"t":2020.303,"p":6900},{"t":2020.347,"p":9600},{"t":2020.406,"p":9600},{"t":2020.553,"p":9130},{"t":2020.581,"p":11700},{"t":2020.625,"p":12300},{"t":2020.669,"p":11500},{"t":2020.772,"p":11400},{"t":2020.802,"p":12800},{"t":2020.846,"p":15200},{"t":2020.89,"p":19000},{"t":2020.949,"p":18500},{"t":2020.978,"p":23700},{"t":2021.007,"p":33100},{"t":2021.022,"p":39800},{"t":2021.043,"p":36600},{"t":2021.066,"p":30800},{"t":2021.11,"p":45600},{"t":2021.14,"p":56100},{"t":2021.169,"p":47600},{"t":2021.199,"p":60300},{"t":2021.228,"p":52800},{"t":2021.287,"p":63600},{"t":2021.316,"p":49500},{"t":2021.36,"p":56100},{"t":2021.39,"p":35200},{"t":2021.449,"p":39000},{"t":2021.478,"p":32100},{"t":2021.552,"p":30100},{"t":2021.581,"p":41800},{"t":2021.625,"p":47600},{"t":2021.684,"p":49500},{"t":2021.728,"p":41800},{"t":2021.772,"p":57900},{"t":2021.802,"p":64500},{"t":2021.86,"p":66200},{"t":2021.919,"p":52800},{"t":2021.963,"p":46300},{"t":2021.993,"p":49500},{"t":2022.037,"p":41800},{"t":2022.066,"p":35200},{"t":2022.11,"p":43500},{"t":2022.154,"p":38100},{"t":2022.199,"p":39000},{"t":2022.243,"p":46300},{"t":2022.287,"p":40300},{"t":2022.346,"p":39000},{"t":2022.36,"p":28900},{"t":2022.434,"p":31300},{"t":2022.463,"p":19000},{"t":2022.507,"p":20200},{"t":2022.566,"p":23700},{"t":2022.625,"p":24000},{"t":2022.684,"p":19800},{"t":2022.728,"p":18500},{"t":2022.787,"p":19800},{"t":2022.846,"p":20900},{"t":2022.869,"p":16300},{"t":2022.919,"p":16700},{"t":2023.022,"p":16700},{"t":2023.052,"p":22600},{"t":2023.125,"p":24000},{"t":2023.193,"p":20200},{"t":2023.213,"p":27400},{"t":2023.281,"p":30100},{"t":2023.331,"p":28900},{"t":2023.464,"p":25200},{"t":2023.478,"p":30100},{"t":2023.522,"p":30800},{"t":2023.625,"p":28900},{"t":2023.64,"p":26500},{"t":2023.699,"p":25200},{"t":2023.79,"p":27400},{"t":2023.8,"p":30800},{"t":2023.829,"p":35200},{"t":2023.903,"p":37400},{"t":2023.932,"p":43500},{"t":2024.006,"p":43500},{"t":2024.026,"p":46300},{"t":2024.065,"p":40300},{"t":2024.109,"p":43500},{"t":2024.138,"p":50900},{"t":2024.168,"p":66200},{"t":2024.197,"p":72500},{"t":2024.226,"p":63600},{"t":2024.271,"p":70600},{"t":2024.329,"p":59400},{"t":2024.388,"p":70600},{"t":2024.447,"p":68500},{"t":2024.506,"p":56100},{"t":2024.556,"p":67500},{"t":2024.609,"p":54300},{"t":2024.653,"p":61900},{"t":2024.682,"p":54300},{"t":2024.741,"p":64500},{"t":2024.8,"p":67500},{"t":2024.844,"p":72900},{"t":2024.874,"p":91800},{"t":2024.962,"p":104600},{"t":2025.021,"p":94300},{"t":2025.065,"p":104600},{"t":2025.153,"p":94300},{"t":2025.182,"p":80500},{"t":2025.226,"p":86500},{"t":2025.271,"p":77500},{"t":2025.315,"p":94300},{"t":2025.388,"p":111800},{"t":2025.476,"p":102000},{"t":2025.535,"p":116000},{"t":2025.594,"p":116000},{"t":2025.668,"p":108700},{"t":2025.726,"p":114500},{"t":2025.771,"p":124000},{"t":2025.815,"p":107000},{"t":2025.859,"p":104600},{"t":2025.897,"p":86500},{"t":2025.947,"p":91800},{"t":2025.976,"p":86500},{"t":2026.05,"p":95000},{"t":2026.085,"p":86500},{"t":2026.109,"p":63600},{"t":2026.153,"p":66200},{"t":2026.212,"p":72900},{"t":2026.25,"p":66200},{"t":2026.315,"p":77500},{"t":2026.367,"p":82000},{"t":2026.409,"p":75000},{"t":2026.432,"p":63600},{"t":2026.447,"p":59500},{"t":2026.476,"p":63600},{"t":2026.506,"p":58000},{"t":2026.535,"p":63600},{"t":2026.565,"p":65300},{"t":2026.609,"p":63600},{"t":2026.638,"p":64544}],
"arrows":[{"arrow":"a","t":2022.383,"v":4.82},{"arrow":"a","t":2023.176,"v":4.46},{"arrow":"b","t":2022.577,"v":-2.81},{"arrow":"b","t":2023.503,"v":-0.91},{"arrow":"c","t":2025.99,"v":6.31},{"arrow":"c","t":2026.79,"v":5.96},{"arrow":"d","t":2026.13,"v":-2.4},{"arrow":"d","t":2027.056,"v":-0.48}],
"tags":[{"series":"Distribution","t":2026.96,"t2":2027.726,"v":2.112,"v2":1.866},{"series":"Distribution","t":2027.735,"t2":2028.05,"v":2.112,"v2":1.866},{"series":"Capitulation","t":2026.93,"t2":2027.726,"v":-1.882,"v2":-2.133},{"series":"Capitulation","t":2027.735,"t2":2028.08,"v":-1.882,"v2":-2.133},{"series":"Capitulation","t":2027.735,"t2":2028.08,"v":-0.128,"v2":-0.379}],
"tagText":[{"t":2027.34,"v":2,"label":"Distribution Zone"},{"t":2027.894,"v":2,"label":"2.00"},{"t":2027.33,"v":-2,"label":"Capitulation Zone"},{"t":2027.908,"v":-2,"label":"-2.00"},{"t":2027.908,"v":-0.255,"label":"-0.24"}]
},
"encoding":{"x":{"field":"t","type":"quantitative","scale":{"domain":[2012.722,2027.735],"nice":false},"axis":{"values":[2013,2014,2015,2016,2017,2018,2019,2020,2021,2022,2023,2024,2025,2026],"format":"d","title":null,"grid":false,"ticks":false,"labelColor":"#8f8f8f","labelFontSize":10,"labelPadding":9,"domainColor":"#2b2b30","labelFlush":false}}},
"layer":[
{"encoding":{"y":{"field":"v","type":"quantitative","scale":{"domain":[-4.32,8.54],"nice":false,"zero":false},"axis":{"orient":"right","values":[-4,-3.5,-3,-2.5,-2,-1.5,-1,-0.5,0,0.5,1,1.5,2,2.5,3,3.5,4,4.5,5,5.5,6,6.5,7,7.5,8,8.5],"labelExpr":"replace(format(datum.value,'.2f'),'−','-')","title":null,"grid":true,"gridColor":"#26262b","gridDash":[3,3],"ticks":false,"labelColor":"#8f8f8f","labelFontSize":10,"labelPadding":10,"domainColor":"#2b2b30","labelFlush":false}}},
"layer":[
{"data":{"values":[{"t":2020.575,"v":1.95,"label":"INVESTEMAIS"}]},"mark":{"type":"text","font":"Liberation Sans","fontWeight":"bold","fontSize":68,"color":"#1e1012","baseline":"middle","align":"center"},"encoding":{"text":{"field":"label"}}},
{"data":{"values":[{"t":2017.894,"v":2.05}]},"mark":{"type":"point","filled":true,"size":9216,"opacity":1,"color":"#1e1012","shape":"M1,0.38A1,0.31,0,1,1,-1,0.38A1,0.31,0,1,1,1,0.38ZM0.84,0.38A0.84,0.2,0,1,0,-0.84,0.38A0.84,0.2,0,1,0,0.84,0.38ZM0.29,-0.63L0.58,-0.63L0.58,0.45L0.29,0.45ZM-0.52,-0.17L-0.23,-0.17L-0.23,0.3L-0.52,0.3Z"}},
{"data":{"name":"cap"},"mark":{"type":"area","interpolate":"step"},"encoding":{"color":{"datum":"Capitulation","type":"nominal","title":null,"scale":{"domain":["Bitcoin Price","Distribution","Capitulation"],"range":["#ffffff","#ef4444","#22c55e"]},"legend":{"title":null,"orient":"none","legendX":675,"legendY":-36,"direction":"horizontal","symbolType":"circle","symbolSize":100,"labelColor":"#e5e5e5","labelFontSize":14,"labelOffset":5.5,"columnPadding":17.5,"symbolStrokeWidth":0}}}}
]},
{"data":{"name":"price"},"mark":{"type":"line","strokeWidth":2.5,"interpolate":"linear"},"encoding":{"y":{"field":"p","type":"quantitative","scale":{"type":"log","domain":[4.16,388500],"nice":false},"axis":{"orient":"left","values":[380000,240000,160000,100000,41500,27500,18500,11500,7500,4700,3100,1900,1200,800,520,340,220,140,90,58,38,24,16,10.5,7,4.7],"labelExpr":"replace(replace(replace(format(datum.value,'$,.2f'),',','#'),'.',','),'#','.')","title":null,"grid":false,"ticks":false,"labelColor":"#8f8f8f","labelFontSize":10,"labelPadding":10,"domainColor":"#2b2b30","labelFlush":false}},"color":{"datum":"Bitcoin Price","type":"nominal","title":null}}},
{"encoding":{"y":{"field":"v","type":"quantitative","scale":{"domain":[-4.32,8.54],"nice":false,"zero":false},"axis":null}},
"layer":[
{"data":{"name":"dist"},"mark":{"type":"area","interpolate":"step"},"encoding":{"color":{"datum":"Distribution","type":"nominal","title":null}}},
{"data":{"values":[{"v":2,"series":"Distribution"},{"v":-2,"series":"Capitulation"}]},"mark":{"type":"rule","strokeDash":[2,2],"strokeWidth":1},"encoding":{"x":{"value":0},"x2":{"value":1702.5},"color":{"field":"series","type":"nominal","title":null}}},
{"data":{"name":"arrows"},"mark":{"type":"line","color":"#fcd34d","strokeWidth":2},"encoding":{"detail":{"field":"arrow"}}},
{"data":{"values":[{"t":2023.176,"v":4.46},{"t":2026.79,"v":5.96}]},"mark":{"type":"point","shape":"triangle-up","filled":true,"opacity":1,"size":50,"angle":105,"color":"#fcd34d"}},
{"data":{"values":[{"t":2023.503,"v":-0.91},{"t":2027.056,"v":-0.48}]},"mark":{"type":"point","shape":"triangle-up","filled":true,"opacity":1,"size":50,"angle":39,"color":"#fcd34d"}},
{"data":{"name":"tags"},"mark":{"type":"rect","cornerRadius":2},"encoding":{"x2":{"field":"t2"},"y2":{"field":"v2"},"color":{"field":"series","type":"nominal","title":null}}},
{"data":{"name":"tagText"},"mark":{"type":"text","color":"#ffffff","fontSize":10,"baseline":"middle","align":"center"},"encoding":{"text":{"field":"label"}}},
{"data":{"values":[{"t":2012.136,"t2":2012.726,"v":6.635,"v2":6.4}]},"mark":{"type":"rect","color":"#ffffff"},"encoding":{"x2":{"field":"t2"},"y2":{"field":"v2"}}},
{"data":{"values":[{"t":2012.64,"v":6.517,"label":"$64.544,44"}]},"mark":{"type":"text","color":"#222222","fontSize":10,"baseline":"middle","align":"right"},"encoding":{"text":{"field":"label"}}},
{"data":{"values":[{"t":2028.114,"v":-5.236,"label":"© INVESTEMAIS. All rights reserved."}]},"mark":{"type":"text","color":"#b91c1c","fontSize":14,"fontWeight":"bold","baseline":"middle","align":"right"},"encoding":{"text":{"field":"label"}}},
{"data":{"values":[{"t":2027.418,"v":-5.375}]},"mark":{"type":"point","filled":true,"opacity":1,"size":729,"color":"#d4d4d4","shape":"M0,-0.28L0.28,0L0,0.28L-0.28,0ZM-0.76,-0.22L-0.54,0L-0.76,0.22L-0.98,0ZM0.76,-0.22L0.98,0L0.76,0.22L0.54,0ZM0,-1L0.52,-0.48L0.3,-0.26L0,-0.56L-0.3,-0.26L-0.52,-0.48ZM0,1L0.52,0.48L0.3,0.26L0,0.56L-0.3,0.26L-0.52,0.48Z"}},
{"data":{"values":[{"t":2027.593,"v":-5.375,"label":"@ G a a h"}]},"mark":{"type":"text","color":"#c8c8c8","fontSize":22,"baseline":"middle","align":"left"},"encoding":{"text":{"field":"label"}}}
]}
],
"resolve":{"scale":{"y":"independent"},"axis":{"y":"independent"}}}
